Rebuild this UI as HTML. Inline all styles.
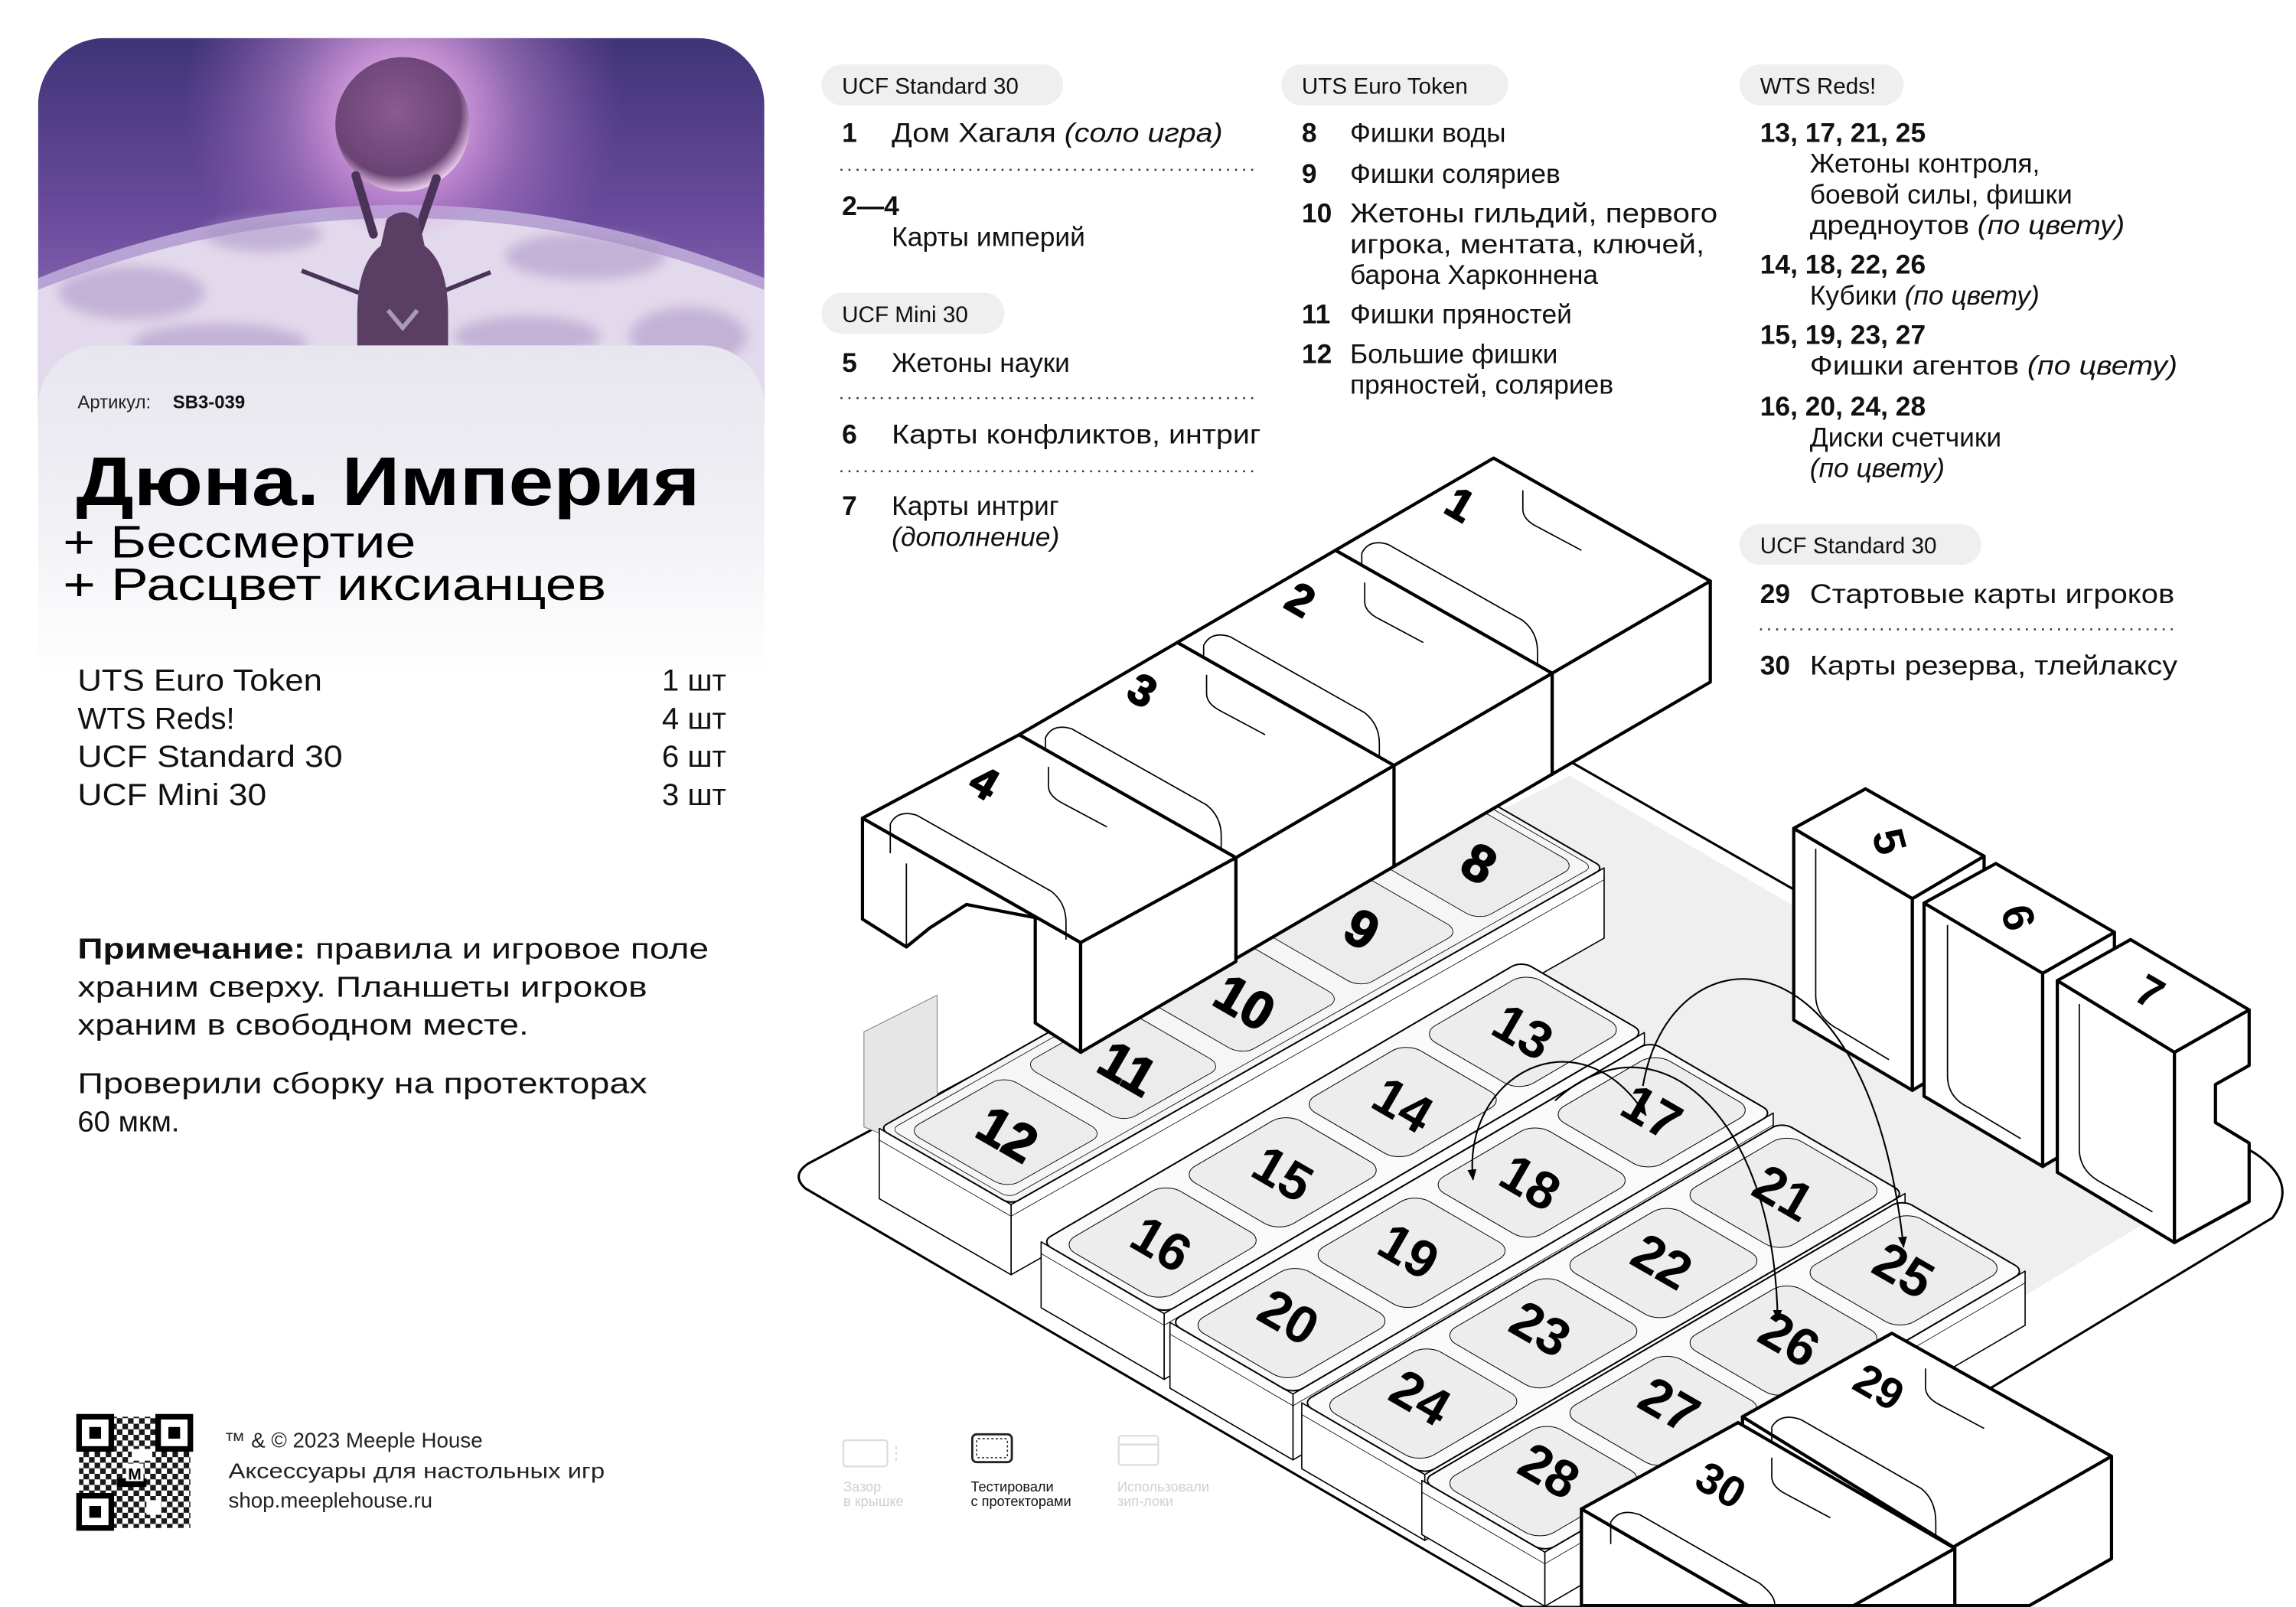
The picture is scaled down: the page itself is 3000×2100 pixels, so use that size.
<!DOCTYPE html>
<html><head><meta charset="utf-8">
<style>
html,body{margin:0;padding:0;background:#fff;width:3000px;height:2100px;overflow:hidden;}
svg{display:block;}
text{font-family:"Liberation Sans","DejaVu Sans",sans-serif;}
.ns, .ns *{vector-effect:non-scaling-stroke;}
.num{font-weight:700;font-size:36px;text-anchor:middle;dominant-baseline:central;fill:#000;}
.r{font-size:18.5px;fill:#111;}
.b{font-weight:700;}
.pl{font-size:15.5px;fill:#111;}
</style></head>
<body>
<svg width="3000" height="2100" viewBox="0 0 1568 1098" preserveAspectRatio="none" xmlns="http://www.w3.org/2000/svg" overflow="hidden">
<defs>
<linearGradient id="sky" x1="0" y1="0" x2="0" y2="1">
<stop offset="0" stop-color="#3f3478"/><stop offset="0.5" stop-color="#6d4d9e"/><stop offset="1" stop-color="#a887c6"/>
</linearGradient>
<radialGradient id="glow" cx="0.5" cy="0.5" r="0.5">
<stop offset="0" stop-color="#f6c8f4" stop-opacity="0.95"/><stop offset="1" stop-color="#c070d0" stop-opacity="0"/>
</radialGradient>
<radialGradient id="orb" cx="0.45" cy="0.4" r="0.6">
<stop offset="0" stop-color="#8a5a90"/><stop offset="0.8" stop-color="#6a4474"/><stop offset="1" stop-color="#e8c8ec"/>
</radialGradient>
<linearGradient id="panel" x1="0" y1="236" x2="0" y2="460" gradientUnits="userSpaceOnUse">
<stop offset="0" stop-color="#e7e5ee"/><stop offset="0.6" stop-color="#f3f2f6"/><stop offset="1" stop-color="#ffffff"/>
</linearGradient>
<clipPath id="card"><rect x="26" y="26" width="496" height="1070" rx="46"/></clipPath>
<clipPath id="pg"><rect x="0" y="0" width="1568" height="1098"/></clipPath>
<marker id="ah" viewBox="0 0 10 10" refX="9" refY="5" markerWidth="7" markerHeight="7" orient="auto-start-reverse">
<path d="M0,1 L10,5 L0,9 z" fill="#000"/></marker>
<filter id="bl"><feGaussianBlur stdDeviation="4"/></filter>
<pattern id="qrp" width="7.6" height="7.6" patternUnits="userSpaceOnUse">
<rect x="0" y="0" width="3.8" height="3.8" fill="#000"/><rect x="3.8" y="3.8" width="3.8" height="3.8" fill="#000"/>
</pattern>
</defs>

<!-- LEFT CARD -->
<g clip-path="url(#card)">
<rect x="26" y="26" width="496" height="260" fill="url(#sky)"/>
<circle cx="275" cy="70" r="150" fill="url(#glow)"/>
<path d="M26,190 Q275,90 522,190 L522,290 L26,290 Z" fill="#b7a3d4"/>
<path d="M26,198 Q275,100 522,198 L522,290 L26,290 Z" fill="#e3d9ec"/>
<g fill="#a893c4" opacity="0.55" filter="url(#bl)">
<ellipse cx="90" cy="200" rx="50" ry="18"/><ellipse cx="180" cy="160" rx="40" ry="12"/>
<ellipse cx="400" cy="175" rx="55" ry="16"/><ellipse cx="470" cy="230" rx="40" ry="20"/>
<ellipse cx="150" cy="235" rx="60" ry="14"/><ellipse cx="360" cy="230" rx="50" ry="14"/>
</g>
<circle cx="275" cy="85" r="80" fill="url(#glow)"/>
<circle cx="275" cy="85" r="46" fill="url(#orb)"/>
<path d="M255,160 L243,120 M285,160 L298,122" stroke="#4a3358" stroke-width="6" stroke-linecap="round"/>
<path d="M245,200 L206,185 M300,200 L335,186" stroke="#4a3358" stroke-width="3"/>
<path d="M264,150 Q275,140 286,150 L290,168 Q306,180 306,215 L306,250 L244,250 L244,215 Q244,180 260,168 Z" fill="#5a3e63"/>
<path d="M265,212 L275,224 L285,212" stroke="#a99ab8" stroke-width="3" fill="none"/>
<rect x="26" y="236" width="496" height="860" rx="42" fill="url(#panel)"/>
</g>

<text x="53" y="279" font-size="12.5" fill="#222">Артикул:</text>
<text x="118" y="279" font-size="12.5" font-family="Liberation Mono" font-weight="700" fill="#111">SB3-039</text>
<text x="52" y="345" font-size="47" font-weight="700" fill="#000" textLength="426" lengthAdjust="spacingAndGlyphs">Дюна. Империя</text>
<text x="43" y="381" font-size="31" fill="#000" textLength="241" lengthAdjust="spacingAndGlyphs">+ Бессмертие</text>
<text x="43" y="410" font-size="31" fill="#000" textLength="371" lengthAdjust="spacingAndGlyphs">+ Расцвет иксианцев</text>

<g font-size="21" fill="#111">
<text x="53" y="472" textLength="167" lengthAdjust="spacingAndGlyphs">UTS Euro Token</text>
<text x="53" y="498">WTS Reds!</text>
<text x="53" y="524" textLength="181" lengthAdjust="spacingAndGlyphs">UCF Standard 30</text>
<text x="53" y="550" textLength="129" lengthAdjust="spacingAndGlyphs">UCF Mini 30</text>
<text x="496" y="472" text-anchor="end">1 шт</text>
<text x="496" y="498" text-anchor="end">4 шт</text>
<text x="496" y="524" text-anchor="end">6 шт</text>
<text x="496" y="550" text-anchor="end">3 шт</text>
</g>
<g font-size="20" fill="#111">
<text x="53" y="655" textLength="431" lengthAdjust="spacingAndGlyphs"><tspan font-weight="700">Примечание:</tspan> правила и игровое поле</text>
<text x="53" y="681" textLength="389" lengthAdjust="spacingAndGlyphs">храним сверху. Планшеты игроков</text>
<text x="53" y="707" textLength="308" lengthAdjust="spacingAndGlyphs">храним в свободном месте.</text>
<text x="53" y="747" textLength="389" lengthAdjust="spacingAndGlyphs">Проверили сборку на протекторах</text>
<text x="53" y="773">60 мкм.</text>
</g>

<g>
<rect x="54" y="968" width="76" height="76" fill="url(#qrp)" opacity="0.9"/>
<rect x="64" y="978" width="12" height="10" fill="#000"/><rect x="90" y="990" width="14" height="8" fill="#fff"/>
<rect x="80" y="1010" width="20" height="6" fill="#000"/><rect x="100" y="1025" width="10" height="10" fill="#fff"/>
<rect x="86" y="1000" width="12" height="12" fill="#fff"/><text x="92" y="1011" font-size="11" font-weight="700" text-anchor="middle">M</text>
<g fill="#fff" stroke="#000" stroke-width="3.8">
<rect x="54" y="968" width="22" height="22"/><rect x="108" y="968" width="22" height="22"/><rect x="54" y="1022" width="22" height="22"/>
</g>
<rect x="61" y="975" width="8" height="8"/><rect x="115" y="975" width="8" height="8"/><rect x="61" y="1029" width="8" height="8"/>
</g>
<g font-size="14.5" fill="#222">
<text x="153" y="989">™ &amp; © 2023 Meeple House</text>
<text x="156" y="1010" textLength="257" lengthAdjust="spacingAndGlyphs">Аксессуары для настольных игр</text>
<text x="156" y="1030">shop.meeplehouse.ru</text>
</g>

<g>
<rect x="561" y="44" width="165" height="28" rx="14" fill="#efefef"/>
<text class="pl" x="575" y="64">UCF Standard 30</text>
<text class="r b" x="575" y="97">1</text>
<text class="r" x="609" y="97" textLength="226" lengthAdjust="spacingAndGlyphs">Дом Хагаля <tspan font-style="italic">(соло игра)</tspan></text>
<line x1="574" y1="116" x2="860" y2="116" stroke="#333" stroke-width="1.3" stroke-dasharray="1.3 4.2"/>
<text class="r b" x="575" y="147">2—4</text>
<text class="r" x="609" y="168">Карты империй</text>
<rect x="561" y="200" width="125" height="28" rx="14" fill="#efefef"/>
<text class="pl" x="575" y="220">UCF Mini 30</text>
<text class="r b" x="575" y="254">5</text>
<text class="r" x="609" y="254">Жетоны науки</text>
<line x1="574" y1="272" x2="860" y2="272" stroke="#333" stroke-width="1.3" stroke-dasharray="1.3 4.2"/>
<text class="r b" x="575" y="303">6</text>
<text class="r" x="609" y="303" textLength="252" lengthAdjust="spacingAndGlyphs">Карты конфликтов,  интриг</text>
<line x1="574" y1="322" x2="860" y2="322" stroke="#333" stroke-width="1.3" stroke-dasharray="1.3 4.2"/>
<text class="r b" x="575" y="352">7</text>
<text class="r" x="609" y="352">Карты интриг</text>
<text class="r" x="609" y="373" font-style="italic">(дополнение)</text>

<rect x="875" y="44" width="155" height="28" rx="14" fill="#efefef"/>
<text class="pl" x="889" y="64">UTS Euro Token</text>
<text class="r b" x="889" y="97">8</text><text class="r" x="922" y="97">Фишки воды</text>
<text class="r b" x="889" y="125">9</text><text class="r" x="922" y="125">Фишки соляриев</text>
<text class="r b" x="889" y="152">10</text><text class="r" x="922" y="152" textLength="251" lengthAdjust="spacingAndGlyphs">Жетоны гильдий, первого</text>
<text class="r" x="922" y="173" textLength="242" lengthAdjust="spacingAndGlyphs">игрока, ментата, ключей,</text>
<text class="r" x="922" y="194">барона Харконнена</text>
<text class="r b" x="889" y="221">11</text><text class="r" x="922" y="221">Фишки пряностей</text>
<text class="r b" x="889" y="248">12</text><text class="r" x="922" y="248">Большие фишки</text>
<text class="r" x="922" y="269">пряностей, соляриев</text>

<rect x="1188" y="44" width="112" height="28" rx="14" fill="#efefef"/>
<text class="pl" x="1202" y="64">WTS Reds!</text>
<text class="r b" x="1202" y="97">13, 17, 21, 25</text>
<text class="r" x="1236" y="118">Жетоны контроля,</text>
<text class="r" x="1236" y="139">боевой силы, фишки</text>
<text class="r" x="1236" y="160" textLength="215" lengthAdjust="spacingAndGlyphs">дредноутов <tspan font-style="italic">(по цвету)</tspan></text>
<text class="r b" x="1202" y="187">14, 18, 22, 26</text>
<text class="r" x="1236" y="208">Кубики <tspan font-style="italic">(по цвету)</tspan></text>
<text class="r b" x="1202" y="235">15, 19, 23, 27</text>
<text class="r" x="1236" y="256" textLength="251" lengthAdjust="spacingAndGlyphs">Фишки агентов <tspan font-style="italic">(по цвету)</tspan></text>
<text class="r b" x="1202" y="284">16, 20, 24, 28</text>
<text class="r" x="1236" y="305">Диски счетчики</text>
<text class="r" x="1236" y="326" font-style="italic">(по цвету)</text>

<rect x="1188" y="358" width="165" height="28" rx="14" fill="#efefef"/>
<text class="pl" x="1202" y="378">UCF Standard 30</text>
<text class="r b" x="1202" y="412">29</text><text class="r" x="1236" y="412" textLength="249" lengthAdjust="spacingAndGlyphs">Стартовые карты игроков</text>
<line x1="1202" y1="430" x2="1487" y2="430" stroke="#333" stroke-width="1.3" stroke-dasharray="1.3 4.2"/>
<text class="r b" x="1202" y="461">30</text><text class="r" x="1236" y="461" textLength="251" lengthAdjust="spacingAndGlyphs">Карты резерва, тлейлаксу</text>
</g>

<!-- DIAGRAM -->
<g clip-path="url(#pg)" stroke="#000" stroke-linejoin="round">
<path d="M552,795 L1070,519 L1540,788 Q1570,808 1552,832 L1112,1098 L1040,1098 L550,812 Q540,803 552,795 Z" fill="#fff" stroke-width="1.6"/>
<polygon points="596,770 1072,530 1530,796 1092,1062" fill="#efefef" stroke="none"/>
<polygon points="590,705 640,680 640,790 590,770" fill="#e6e6e6" stroke="#888" stroke-width="0.6"/>

<g fill="#fff" stroke-width="2.2">
<polygon points="1225,566 1306,614 1306,745 1225,697"/>
<polygon points="1306,614 1355,585 1355,716 1306,745"/>
<polygon points="1225,566 1274,539 1355,585 1306,614"/>
<path d="M1240,580 L1240,680 Q1240,695 1255,703 L1290,724" fill="none" stroke-width="0.9"/>
<polygon points="1314,617 1395,665 1395,797 1314,749"/>
<polygon points="1395,665 1444,637 1444,768 1395,797"/>
<polygon points="1314,617 1363,590 1444,637 1395,665"/>
<path d="M1330,632 L1330,735 Q1330,750 1345,757 L1380,778" fill="none" stroke-width="0.9"/>
<polygon points="1405,670 1485,719 1485,849 1405,801"/>
<polygon points="1485,719 1536,690 1536,728 1513,741 1513,767 1536,781 1536,821 1485,849"/>
<polygon points="1405,670 1455,642 1536,690 1485,719"/>
<path d="M1420,686 L1420,785 Q1420,800 1435,808 L1470,828" fill="none" stroke-width="0.9"/>
</g>

<g class="ns" fill="#fff" stroke-width="1.6">
<g transform="matrix(-81,46,0,1,1095.5,593)"><rect x="0" y="0" width="5" height="48"/><line x1="0" y1="8" x2="5" y2="8" stroke-width="0.8"/></g>
<g transform="matrix(90,52,0,1,600.5,771)"><rect x="0" y="0" width="1" height="48"/><line x1="0" y1="8" x2="1" y2="8" stroke-width="0.8"/></g>
<g transform="matrix(-81,46,90,52,1005.5,541)">
<rect x="0" y="0" width="5" height="1" rx="0.06" ry="0.06" fill="#f6f6f6" stroke-width="2"/>
<rect x="0.04" y="0.05" width="4.92" height="0.9" rx="0.06" ry="0.06" fill="none" stroke-width="0.8"/>
<rect x="0.1" y="0.12" width="0.82" height="0.76" rx="0.1" ry="0.1" fill="#ececec" stroke-width="0.9"/>
<rect x="1.08" y="0.12" width="0.84" height="0.76" rx="0.1" ry="0.1" fill="#ececec" stroke-width="0.9"/>
<rect x="2.08" y="0.12" width="0.84" height="0.76" rx="0.1" ry="0.1" fill="#ececec" stroke-width="0.9"/>
<rect x="3.08" y="0.12" width="0.84" height="0.76" rx="0.1" ry="0.1" fill="#ececec" stroke-width="0.9"/>
<rect x="4.08" y="0.12" width="0.82" height="0.76" rx="0.1" ry="0.1" fill="#ececec" stroke-width="0.9"/>
</g>
</g>
<g class="num"><text transform="translate(1010,590) rotate(30)">8</text><text transform="translate(930,635) rotate(30)">9</text><text transform="translate(850,685) rotate(30)">10</text><text transform="translate(770,730) rotate(30)">11</text><text transform="translate(688,775) rotate(30)">12</text></g>

<g fill="#fff" stroke-width="2.2">
<polygon points="912,376 1060,460 1060,529 912,445"/><polygon points="1060,460 1168,397 1168,466 1060,529"/><polygon points="1020,313 1168,397 1060,460 912,376"/>
<path d="M930,398 L930,378 Q935,368 948,372 L1040,424 Q1050,432 1050,445 L1050,458" fill="none" stroke-width="0.9"/>
<path d="M1040,335 L1040,348 Q1040,355 1050,360 L1080,376" fill="none" stroke-width="0.9"/>
<polygon points="804,439 952,523 952,592 804,508"/><polygon points="952,523 1060,460 1060,529 952,592"/><polygon points="912,376 1060,460 952,523 804,439"/>
<path d="M822,461 L822,441 Q827,431 840,435 L932,487 Q942,495 942,508 L942,521" fill="none" stroke-width="0.9"/>
<path d="M932,398 L932,411 Q932,418 942,423 L972,439" fill="none" stroke-width="0.9"/>
<polygon points="696,502 844,586 844,655 696,571"/><polygon points="844,586 952,523 952,592 844,655"/><polygon points="804,439 952,523 844,586 696,502"/>
<path d="M714,524 L714,504 Q719,494 732,498 L824,550 Q834,558 834,571 L834,584" fill="none" stroke-width="0.9"/>
<path d="M824,461 L824,474 Q824,481 834,486 L864,502" fill="none" stroke-width="0.9"/>
<polygon points="589,559 738,644 738,719 707,699 707,627 660,618 635,634 619,647 589,628"/>
<polygon points="738,644 844,586 844,657 738,719"/>
<polygon points="696,502 844,586 738,644 589,559"/>
<path d="M608,583 L608,563 Q613,553 626,557 L718,609 Q728,617 728,630 L728,642" fill="none" stroke-width="0.9"/>
<path d="M716,524 L716,537 Q716,544 726,549 L756,565" fill="none" stroke-width="0.9"/>
<path d="M619,647 L619,590 M707,627 L660,600" fill="none" stroke-width="0.9"/>
</g>
<g class="num" font-size="30"><text transform="translate(997,345) rotate(30)" font-size="30">1</text><text transform="translate(888,410) rotate(30)" font-size="30">2</text><text transform="translate(780,472) rotate(30)" font-size="30">3</text><text transform="translate(672,535) rotate(30)" font-size="30">4</text></g>

<g class="ns" fill="#fff" stroke-width="1.6">
<g transform="matrix(-82,48,0,1,1123,705.5)"><rect x="0" y="0" width="4" height="45"/><line x1="0" y1="8" x2="4" y2="8" stroke-width="0.8"/></g>
<g transform="matrix(84,49,0,1,711,848.5)"><rect x="0" y="0" width="1" height="45"/><line x1="0" y1="8" x2="1" y2="8" stroke-width="0.8"/></g>
<g transform="matrix(-82,48,84,49,1039,656.5)">
<rect x="0" y="0" width="4" height="1" rx="0.08" ry="0.08" fill="#fafafa" stroke-width="2"/>
<rect x="0.06" y="0.1" width="0.88" height="0.8" rx="0.12" ry="0.12" fill="#ededed" stroke-width="1"/><rect x="1.06" y="0.1" width="0.88" height="0.8" rx="0.12" ry="0.12" fill="#ededed" stroke-width="1"/><rect x="2.06" y="0.1" width="0.88" height="0.8" rx="0.12" ry="0.12" fill="#ededed" stroke-width="1"/><rect x="3.06" y="0.1" width="0.88" height="0.8" rx="0.12" ry="0.12" fill="#ededed" stroke-width="1"/>
</g>
<g transform="matrix(-82,48,0,1,1211,760.5)"><rect x="0" y="0" width="4" height="45"/><line x1="0" y1="8" x2="4" y2="8" stroke-width="0.8"/></g>
<g transform="matrix(84,49,0,1,799,903.5)"><rect x="0" y="0" width="1" height="45"/><line x1="0" y1="8" x2="1" y2="8" stroke-width="0.8"/></g>
<g transform="matrix(-82,48,84,49,1127,711.5)">
<rect x="0" y="0" width="4" height="1" rx="0.08" ry="0.08" fill="#fafafa" stroke-width="2"/>
<rect x="0.06" y="0.1" width="0.88" height="0.8" rx="0.12" ry="0.12" fill="#ededed" stroke-width="1"/><rect x="1.06" y="0.1" width="0.88" height="0.8" rx="0.12" ry="0.12" fill="#ededed" stroke-width="1"/><rect x="2.06" y="0.1" width="0.88" height="0.8" rx="0.12" ry="0.12" fill="#ededed" stroke-width="1"/><rect x="3.06" y="0.1" width="0.88" height="0.8" rx="0.12" ry="0.12" fill="#ededed" stroke-width="1"/>
</g>
<g transform="matrix(-82,48,0,1,1301,815.5)"><rect x="0" y="0" width="4" height="45"/><line x1="0" y1="8" x2="4" y2="8" stroke-width="0.8"/></g>
<g transform="matrix(84,49,0,1,889,958.5)"><rect x="0" y="0" width="1" height="45"/><line x1="0" y1="8" x2="1" y2="8" stroke-width="0.8"/></g>
<g transform="matrix(-82,48,84,49,1217,766.5)">
<rect x="0" y="0" width="4" height="1" rx="0.08" ry="0.08" fill="#fafafa" stroke-width="2"/>
<rect x="0.06" y="0.1" width="0.88" height="0.8" rx="0.12" ry="0.12" fill="#ededed" stroke-width="1"/><rect x="1.06" y="0.1" width="0.88" height="0.8" rx="0.12" ry="0.12" fill="#ededed" stroke-width="1"/><rect x="2.06" y="0.1" width="0.88" height="0.8" rx="0.12" ry="0.12" fill="#ededed" stroke-width="1"/><rect x="3.06" y="0.1" width="0.88" height="0.8" rx="0.12" ry="0.12" fill="#ededed" stroke-width="1"/>
</g>
<g transform="matrix(-82,48,0,1,1383,868.5)"><rect x="0" y="0" width="4" height="37"/><line x1="0" y1="8" x2="4" y2="8" stroke-width="0.8"/></g>
<g transform="matrix(84,49,0,1,971,1011.5)"><rect x="0" y="0" width="1" height="37"/><line x1="0" y1="8" x2="1" y2="8" stroke-width="0.8"/></g>
<g transform="matrix(-82,48,84,49,1299,819.5)">
<rect x="0" y="0" width="4" height="1" rx="0.08" ry="0.08" fill="#fafafa" stroke-width="2"/>
<rect x="0.06" y="0.1" width="0.88" height="0.8" rx="0.12" ry="0.12" fill="#ededed" stroke-width="1"/><rect x="1.06" y="0.1" width="0.88" height="0.8" rx="0.12" ry="0.12" fill="#ededed" stroke-width="1"/><rect x="2.06" y="0.1" width="0.88" height="0.8" rx="0.12" ry="0.12" fill="#ededed" stroke-width="1"/><rect x="3.06" y="0.1" width="0.88" height="0.8" rx="0.12" ry="0.12" fill="#ededed" stroke-width="1"/>
</g>
</g>
<g class="num" stroke="none">
<text transform="translate(1040,705) rotate(30)">13</text><text transform="translate(958,755) rotate(30)">14</text><text transform="translate(876,802) rotate(30)">15</text><text transform="translate(793,850) rotate(30)">16</text>
<text transform="translate(1128,760) rotate(30)">17</text><text transform="translate(1045,808) rotate(30)">18</text><text transform="translate(962,855) rotate(30)">19</text><text transform="translate(880,900) rotate(30)">20</text>
<text transform="translate(1218,815) rotate(30)">21</text><text transform="translate(1135,862) rotate(30)">22</text><text transform="translate(1052,908) rotate(30)">23</text><text transform="translate(970,955) rotate(30)">24</text>
<text transform="translate(1300,868) rotate(30)">25</text><text transform="translate(1222,915) rotate(30)">26</text><text transform="translate(1140,960) rotate(30)">27</text><text transform="translate(1058,1005) rotate(30)">28</text>
</g>

<g fill="none" stroke-width="1.1">
<path d="M1006,806 C998,735 1078,690 1124,762" marker-start="url(#ah)" marker-end="url(#ah)"/>
<path d="M1062,752 C1130,690 1212,760 1214,902" marker-end="url(#ah)"/>
<path d="M1122,742 C1140,635 1275,625 1300,852" marker-end="url(#ah)"/>
</g>

<g fill="#fff" stroke-width="2.2">
<polygon points="1190,968 1334,1057 1334,1097 1190,1097"/>
<polygon points="1334,1057 1442,995 1442,1065 1386,1097 1334,1097"/>
<polygon points="1292,911 1442,995 1334,1057 1190,968"/>
<path d="M1210,990 L1210,975 Q1216,965 1230,970 L1312,1017 Q1322,1025 1322,1040 L1322,1052" fill="none" stroke-width="0.9"/>
<path d="M1315,935 L1315,948 Q1315,955 1325,960 L1355,976" fill="none" stroke-width="0.9"/>
<polygon points="1080,1031 1194,1097 1080,1097"/>
<polygon points="1187,972 1335,1058 1266,1097 1194,1097 1080,1031"/>
<polygon points="1266,1097 1335,1058 1335,1097"/>
<path d="M1100,1055 L1100,1040 Q1106,1030 1120,1035 L1202,1082 Q1212,1090 1212,1096" fill="none" stroke-width="0.9"/>
<path d="M1210,996 L1210,1009 Q1210,1016 1220,1021 L1250,1037" fill="none" stroke-width="0.9"/>
</g>
<g class="num" stroke="none" font-size="30">
<text transform="translate(1283,948) rotate(30)" font-size="30">29</text>
<text transform="translate(1175,1015) rotate(30)" font-size="30">30</text>
<text transform="translate(1290,575) rotate(75)" font-size="30">5</text>
<text transform="translate(1378,627) rotate(75)" font-size="30">6</text>
<text transform="translate(1468,678) rotate(30)" font-size="30">7</text>
</g>
</g>

<g fill="none" stroke-width="1.2">
<rect x="576" y="984" width="30" height="18" rx="2" stroke="#dcdcdc"/>
<line x1="612" y1="988" x2="612" y2="998" stroke="#dcdcdc" stroke-dasharray="2 2"/>
<rect x="664" y="980" width="27" height="19" rx="3" stroke="#222" stroke-width="1.5"/>
<rect x="667" y="983" width="21" height="13" rx="1" stroke="#222" stroke-width="0.8" stroke-dasharray="1.5 1.5"/>
<rect x="764" y="981" width="27" height="20" rx="2" stroke="#dcdcdc"/>
<line x1="764" y1="987" x2="791" y2="987" stroke="#dcdcdc"/>
</g>
<g font-size="9.5">
<text x="576" y="1019" fill="#cfcfcf">Зазор</text><text x="576" y="1029" fill="#cfcfcf">в крышке</text>
<text x="663" y="1019" fill="#111">Тестировали</text><text x="663" y="1029" fill="#111">с протекторами</text>
<text x="763" y="1019" fill="#cfcfcf">Использовали</text><text x="763" y="1029" fill="#cfcfcf">зип-локи</text>
</g>
</svg>
</body></html>
